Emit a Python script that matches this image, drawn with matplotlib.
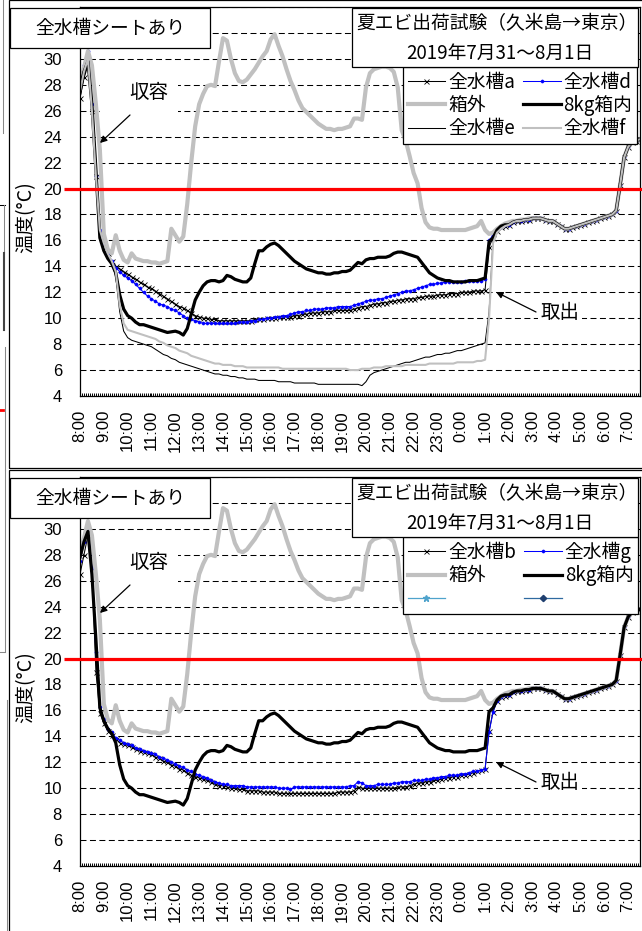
import numpy as np
import matplotlib
matplotlib.use('Agg')
import matplotlib.pyplot as plt
from matplotlib.patches import Rectangle, FancyArrowPatch
from matplotlib.lines import Line2D
from matplotlib.ticker import MultipleLocator
from matplotlib.font_manager import FontProperties

plt.rcParams['font.family'] = ['Liberation Sans', 'Noto Sans CJK JP', 'DejaVu Sans']
plt.rcParams['lines.scale_dashes'] = False

# ---------------- data (10-minute readings from 8:00 to 7:30 next day) ----------------
HOUR_LABELS = ['8:00', '9:00', '10:00', '11:00', '12:00', '13:00', '14:00', '15:00',
               '16:00', '17:00', '18:00', '19:00', '20:00', '21:00', '22:00', '23:00',
               '0:00', '1:00', '2:00', '3:00', '4:00', '5:00', '6:00', '7:00']
STEP_MIN = 10
THRESHOLD = 20

BOX_OUT = [28.0, 29.3, 30.6, 29.5, 26.5, 23.0,
           16.5, 15.3, 15.0, 16.4, 15.2, 14.5,
           14.3, 15.0, 14.6, 14.5, 14.4, 14.4,
           14.3, 14.3, 14.2, 14.3, 14.4, 16.9,
           16.4, 15.9, 16.3, 18.8, 22.0, 24.8,
           26.5, 27.3, 27.9, 28.0, 27.9, 29.8,
           31.6, 31.4, 30.0, 28.9, 28.3, 28.2,
           28.4, 28.8, 29.2, 29.7, 30.2, 30.6,
           31.5, 31.9, 31.0, 30.2, 29.2, 28.3,
           27.6, 26.8, 26.2, 25.9, 25.6, 25.3,
           25.0, 24.8, 24.6, 24.6, 24.5, 24.6,
           24.6, 24.7, 24.8, 25.4, 25.4, 25.3,
           27.8, 28.9, 29.2, 29.3, 29.4, 29.4,
           29.3, 29.0, 27.8, 24.5, 23.7, 22.5,
           21.2, 20.4, 18.5, 17.4, 17.0, 16.9,
           16.9, 16.8, 16.8, 16.8, 16.8, 16.8,
           16.8, 16.8, 16.9, 17.0, 17.1, 17.5,
           16.8, 16.5, 16.6, 16.9, 17.1, 17.3,
           17.4, 17.5, 17.5, 17.6, 17.6, 17.7,
           17.7, 17.7, 17.7, 17.6, 17.5, 17.5,
           17.3, 17.1, 16.9, 16.9, 17.0, 17.1,
           17.2, 17.3, 17.4, 17.5, 17.6, 17.7,
           17.8, 17.9, 18.0, 18.3, 20.3, 22.4,
           23.2, 23.6, 23.7, 23.8]

# common part after removal (2:00 - 7:30) for the water-tank / box-inside loggers
TAIL = [17.2, 17.4, 17.5, 17.5, 17.6, 17.6,
        17.7, 17.7, 17.7, 17.6, 17.5, 17.5,
        17.3, 17.1, 16.9, 16.9, 17.0, 17.1,
        17.2, 17.3, 17.4, 17.5, 17.6, 17.7,
        17.8, 17.9, 18.0, 18.3, 20.3, 22.4,
        23.2, 23.6, 23.7, 23.8]

BOX_8KG = [27.8, 29.0, 29.8, 26.5, 21.5, 16.2,
           15.2, 14.6, 14.2, 13.5, 11.8, 10.7,
           10.2, 10.0, 9.7, 9.5, 9.5, 9.4,
           9.3, 9.2, 9.1, 9.0, 8.9, 8.95,
           9.0, 8.9, 8.7, 9.2, 10.3, 11.4,
           12.0, 12.5, 12.8, 12.9, 12.9, 12.8,
           12.9, 13.3, 13.2, 13.0, 12.9, 12.8,
           12.8, 13.1, 14.2, 15.2, 15.2, 15.5,
           15.7, 15.8, 15.6, 15.3, 15.0, 14.7,
           14.4, 14.2, 14.0, 13.8, 13.7, 13.6,
           13.5, 13.5, 13.4, 13.4, 13.5, 13.5,
           13.6, 13.6, 13.7, 14.0, 14.3, 14.2,
           14.5, 14.6, 14.6, 14.7, 14.7, 14.7,
           14.8, 15.0, 15.1, 15.1, 15.0, 14.9,
           14.8, 14.7, 14.3, 13.9, 13.5, 13.3,
           13.1, 13.0, 12.9, 12.9, 12.8, 12.8,
           12.8, 12.8, 12.9, 12.9, 12.9, 13.0,
           13.1, 15.9, 16.2, 16.8, 17.1, 17.2]

TANK_A = [27.0, 28.6, 29.8, 26.0, 21.0, 16.8,
          15.8, 15.0, 14.4, 14.0, 13.8, 13.6,
          13.4, 13.2, 13.0, 12.8, 12.6, 12.4,
          12.3, 12.1, 11.9, 11.7, 11.5, 11.3,
          11.1, 10.9, 10.8, 10.6, 10.4, 10.2,
          10.1, 10.0, 10.0, 9.9, 9.9, 9.8,
          9.8, 9.8, 9.8, 9.8, 9.8, 9.8,
          9.8, 9.8, 9.9, 9.9, 9.9, 10.0,
          10.0, 10.0, 10.1, 10.1, 10.1, 10.1,
          10.2, 10.2, 10.3, 10.3, 10.4, 10.4,
          10.4, 10.5, 10.5, 10.5, 10.6, 10.6,
          10.6, 10.6, 10.6, 10.7, 10.8, 10.9,
          10.9, 11.0, 11.1, 11.1, 11.2, 11.2,
          11.3, 11.3, 11.4, 11.4, 11.5, 11.5,
          11.5, 11.6, 11.6, 11.7, 11.7, 11.7,
          11.8, 11.8, 11.8, 11.9, 11.9, 11.9,
          12.0, 12.0, 12.0, 12.1, 12.1, 12.1,
          12.2, 15.5, 16.2, 16.7, 17.0, 17.1]

TANK_D = [28.2, 29.5, 30.6, 26.5, 21.0, 16.8,
          15.8, 15.0, 14.4, 13.9, 13.6, 13.3,
          13.1, 12.9, 12.6, 12.3, 12.0, 11.7,
          11.5, 11.3, 11.1, 11.0, 10.9, 10.7,
          10.6, 10.4, 10.2, 10.0, 9.9, 9.8,
          9.7, 9.6, 9.6, 9.6, 9.6, 9.6,
          9.6, 9.6, 9.6, 9.6, 9.7, 9.7,
          9.7, 9.8, 9.8, 9.9, 9.9, 10.0,
          10.0, 10.1, 10.1, 10.2, 10.2, 10.3,
          10.4, 10.5, 10.5, 10.6, 10.6, 10.7,
          10.7, 10.7, 10.8, 10.8, 10.8, 10.9,
          10.9, 10.9, 10.9, 11.0, 11.1, 11.2,
          11.3, 11.4, 11.4, 11.5, 11.5, 11.6,
          11.7, 11.8, 11.9, 12.0, 12.1, 12.1,
          12.2, 12.3, 12.4, 12.5, 12.6, 12.6,
          12.7, 12.7, 12.8, 12.8, 12.8, 12.8,
          12.8, 12.9, 12.9, 12.9, 12.9, 12.9,
          13.0, 16.0, 16.4, 16.8, 17.0, 17.2]

TANK_E = [27.0, 28.5, 29.5, 26.0, 21.0, 16.8,
          15.8, 15.0, 14.3, 13.2, 10.5, 9.0,
          8.5, 8.3, 8.2, 8.1, 8.0, 7.9,
          7.8, 7.6, 7.4, 7.2, 7.1, 6.9,
          6.8, 6.6, 6.5, 6.4, 6.3, 6.2,
          6.1, 6.0, 5.9, 5.8, 5.7, 5.7,
          5.6, 5.6, 5.5, 5.5, 5.4, 5.4,
          5.3, 5.3, 5.3, 5.2, 5.2, 5.2,
          5.2, 5.2, 5.1, 5.1, 5.1, 5.1,
          5.0, 5.0, 5.0, 5.0, 5.0, 5.0,
          4.9, 4.9, 4.9, 4.9, 4.9, 4.9,
          4.9, 4.9, 4.9, 4.9, 4.9, 4.8,
          5.1, 5.6, 5.8, 5.9, 6.0, 6.1,
          6.2, 6.3, 6.4, 6.5, 6.6, 6.6,
          6.7, 6.8, 6.9, 7.0, 7.0, 7.1,
          7.2, 7.2, 7.3, 7.3, 7.4, 7.5,
          7.5, 7.6, 7.7, 7.8, 7.9, 8.0,
          8.1, 10.5, 16.0, 16.6, 16.9, 17.1]

TANK_F = [27.5, 29.0, 30.0, 26.0, 21.0, 16.8,
          15.8, 15.0, 14.4, 13.6, 11.0, 9.6,
          9.1, 9.0, 8.9, 8.8, 8.7, 8.6,
          8.5, 8.4, 8.2, 8.1, 7.9, 7.8,
          7.7, 7.5, 7.4, 7.3, 7.1, 7.0,
          6.9, 6.8, 6.7, 6.6, 6.5, 6.5,
          6.4, 6.4, 6.4, 6.3, 6.3, 6.3,
          6.2, 6.2, 6.2, 6.2, 6.2, 6.2,
          6.2, 6.2, 6.2, 6.1, 6.1, 6.1,
          6.1, 6.1, 6.1, 6.1, 6.1, 6.1,
          6.1, 6.1, 6.1, 6.1, 6.1, 6.1,
          6.1, 6.1, 6.0, 6.0, 6.0, 6.1,
          6.1, 6.1, 6.2, 6.2, 6.2, 6.3,
          6.3, 6.3, 6.3, 6.3, 6.4, 6.4,
          6.4, 6.4, 6.4, 6.4, 6.5, 6.5,
          6.5, 6.5, 6.5, 6.5, 6.5, 6.6,
          6.6, 6.6, 6.6, 6.6, 6.7, 6.7,
          6.8, 10.0, 15.8, 16.6, 16.9, 17.1]

TANK_B = [26.5, 28.0, 29.5, 27.0, 19.0, 15.8,
          15.0, 14.4, 14.1, 13.8, 13.5, 13.4,
          13.3, 13.2, 13.0, 12.9, 12.8, 12.7,
          12.6, 12.4, 12.3, 12.1, 12.0, 11.8,
          11.7, 11.5, 11.4, 11.2, 11.0, 10.9,
          10.8, 10.7, 10.6, 10.5, 10.3, 10.2,
          10.2, 10.1, 10.0, 10.0, 9.9, 9.9,
          9.8, 9.8, 9.8, 9.8, 9.7, 9.7,
          9.7, 9.7, 9.6, 9.6, 9.6, 9.6,
          9.6, 9.6, 9.6, 9.6, 9.6, 9.6,
          9.6, 9.6, 9.6, 9.6, 9.6, 9.7,
          9.7, 9.7, 9.7, 9.8, 10.1, 10.0,
          10.0, 10.0, 10.0, 10.0, 10.0, 10.0,
          10.0, 10.0, 10.1, 10.1, 10.1, 10.2,
          10.3, 10.4, 10.4, 10.5, 10.5, 10.6,
          10.6, 10.7, 10.8, 10.8, 10.9, 10.9,
          11.0, 11.0, 11.1, 11.2, 11.3, 11.4,
          11.5, 14.4, 15.9, 16.7, 17.0, 17.1]

TANK_G = [27.5, 29.0, 30.1, 27.0, 20.5, 16.3,
          15.3, 14.6, 14.3, 13.9, 13.7, 13.5,
          13.4, 13.3, 13.1, 13.0, 12.9, 12.8,
          12.7, 12.6, 12.4, 12.3, 12.2, 12.0,
          11.9, 11.7, 11.6, 11.4, 11.3, 11.1,
          11.0, 10.9, 10.8, 10.6, 10.5, 10.4,
          10.3, 10.3, 10.2, 10.2, 10.2, 10.2,
          10.1, 10.1, 10.1, 10.1, 10.1, 10.1,
          10.1, 10.1, 10.0, 10.0, 10.0, 9.9,
          10.1, 10.1, 10.1, 10.1, 10.1, 10.1,
          10.1, 10.1, 10.1, 10.1, 10.1, 10.1,
          10.1, 10.1, 10.2, 10.2, 10.5, 10.4,
          10.2, 10.2, 10.2, 10.3, 10.3, 10.3,
          10.3, 10.4, 10.4, 10.5, 10.5, 10.5,
          10.6, 10.6, 10.6, 10.7, 10.7, 10.8,
          10.8, 10.9, 10.9, 11.0, 11.0, 11.0,
          11.1, 11.1, 11.2, 11.3, 11.3, 11.4,
          11.5, 14.3, 15.9, 16.7, 17.0, 17.2]

TOP_TITLE = '全水槽シートあり'
MAIN_TITLE = '夏エビ出荷試験（久米島→東京）'
SUB_TITLE = '2019年7月31～8月1日'
YLABEL = '温度(°C)'

# ---------------- figure ----------------
W, H = 642, 931
fig = plt.figure(figsize=(W / 100, H / 100), dpi=100)
fig.patch.set_facecolor('white')


def fx(x):
    return x / W


def fy(y):
    return 1 - y / H


JP = ['Noto Sans CJK JP', 'DejaVu Sans']
jp14 = FontProperties(family=JP, size=14)
jp13 = FontProperties(family=JP, size=13.5)
jp135 = FontProperties(family=JP, size=13.5)
jpleg = FontProperties(family=JP, size=13.5)


def fig_line(x0, y0, x1, y1, color='black', lw=0.75):
    fig.add_artist(Line2D([fx(x0), fx(x1)], [fy(y0), fy(y1)], transform=fig.transFigure,
                          color=color, lw=lw))


def panel(off, series, legend_order):
    # outer chart frame
    fig.add_artist(Rectangle((fx(9), fy(off + 468)), fx(700) - fx(9), 468 / H,
                             transform=fig.transFigure, facecolor='none',
                             edgecolor='black', lw=0.9, zorder=0.5))
    top, bot = off + 7, off + 396
    ax = fig.add_axes([fx(80), fy(bot), fx(640) - fx(80), (bot - top) / H])
    ax.set_facecolor('white')
    n = len(series[0][0])
    t = np.arange(n) * STEP_MIN / 60.0
    handles = {}
    for vals, kw in series:
        ln, = ax.plot(t[:len(vals)], vals, **kw)
        handles[kw['label']] = ln
    # 20 C reference line, reaching out to the tick labels
    ax.plot([-(80 - 64) / 23.83, 23.6], [THRESHOLD, THRESHOLD], color='#ff0000', lw=2.3,
            clip_on=False, zorder=6, solid_capstyle='butt')
    ax.set_xlim(0, 23.5)
    ax.set_ylim(4, 34)
    yt = list(range(4, 35, 2))
    ax.set_yticks(yt)
    ax.set_yticklabels([str(v) if v <= 30 else '' for v in yt])
    ax.set_xticks(range(len(HOUR_LABELS)))
    ax.set_xticklabels(HOUR_LABELS, rotation=90)
    ax.xaxis.set_minor_locator(MultipleLocator(5 / 60))
    ax.tick_params(axis='x', which='both', direction='in', length=2.5, width=0.7,
                   pad=10, labelsize=12)
    ax.tick_params(axis='y', which='both', direction='in', length=3, width=0.7,
                   pad=13, labelsize=12)
    ax.grid(axis='y', color='black', lw=0.75, linestyle=(0, (4.3, 2.5)))
    for s in ax.spines.values():
        s.set_linewidth(0.9)
        s.set_color('black')
    hs = [handles[k] for k in legend_order]
    labels = [' ' if h.get_label().startswith('_') else h.get_label() for h in hs]
    leg = ax.legend(hs, labels,
                    ncol=2, loc='upper left', bbox_to_anchor=(fx(403), fy(off + 67)),
                    bbox_transform=fig.transFigure, borderaxespad=0, frameon=True,
                    fancybox=False, edgecolor='black', framealpha=1, prop=jpleg,
                    handlelength=2.0, handletextpad=0.15, columnspacing=0.45,
                    labelspacing=0.12, borderpad=0.25, numpoints=1)
    leg.get_frame().set_linewidth(0.9)
    leg.set_zorder(20)

    # title boxes
    fig.add_artist(Rectangle((fx(10), fy(off + 48)), fx(210) - fx(10), 40 / H,
                             transform=fig.transFigure, facecolor='white',
                             edgecolor='black', lw=0.9, zorder=10))
    fig.text(fx(110), fy(off + 28), TOP_TITLE, ha='center', va='center',
             fontproperties=jp135, zorder=11)
    fig.add_artist(Rectangle((fx(352), fy(off + 67)), fx(638) - fx(352), 59 / H,
                             transform=fig.transFigure, facecolor='white',
                             edgecolor='black', lw=0.9, zorder=10))
    fig.text(fx(497), fy(off + 24), MAIN_TITLE, ha='center', va='center',
             fontproperties=jp135, zorder=11)
    fig.text(fx(500), fy(off + 53), SUB_TITLE, ha='center', va='center',
             fontproperties=jp13, zorder=11)

    # y label
    fig.text(fx(26), fy(off + 217), YLABEL, rotation=90, ha='center', va='center',
             fontproperties=jp14)

    # annotations
    fig.add_artist(Rectangle((fx(100), fy(off + 120)), fx(178) - fx(100), 54 / H,
                             transform=fig.transFigure, facecolor='white',
                             edgecolor='none', zorder=9))
    fig.text(fx(149), fy(off + 93), '収容', ha='center', va='center',
             fontproperties=jp14, zorder=11)
    fig.add_artist(FancyArrowPatch((fx(130), fy(off + 115)), (fx(100), fy(off + 143)),
                                   transform=fig.transFigure, arrowstyle='-|>',
                                   mutation_scale=10, lw=0.9, color='black',
                                   shrinkA=0, shrinkB=0, zorder=12))
    fig.text(fx(560), fy(off + 313), '取出', ha='center', va='center',
             fontproperties=jp14, zorder=11,
             bbox=dict(boxstyle='square,pad=0.15', facecolor='white', edgecolor='none'))
    fig.add_artist(FancyArrowPatch((fx(536), fy(off + 312)), (fx(496), fy(off + 292)),
                                   transform=fig.transFigure, arrowstyle='-|>',
                                   mutation_scale=10, lw=0.9, color='black',
                                   shrinkA=0, shrinkB=0, zorder=12))
    return ax


thin_x = dict(color='black', lw=0.75, marker='x', ms=3.6, mew=0.6)
thin_dot = dict(color='#0000ff', lw=0.75, marker='o', ms=2.3, mew=0.3)
box_out_kw = dict(color='#c0c0c0', lw=3.0, solid_joinstyle='round')
box_8kg_kw = dict(color='black', lw=2.3, solid_joinstyle='round')

top_series = [
    (TANK_A + TAIL, dict(label='全水槽a', **thin_x)),
    (TANK_D + TAIL, dict(label='全水槽d', **thin_dot)),
    (BOX_OUT, dict(label='箱外', **box_out_kw)),
    (BOX_8KG + TAIL, dict(label='8kg箱内', **box_8kg_kw)),
    (TANK_E + TAIL, dict(label='全水槽e', color='black', lw=0.75)),
    (TANK_F + TAIL, dict(label='全水槽f', color='#c0c0c0', lw=1.5)),
]
panel(0, top_series, ['全水槽a', '箱外', '全水槽e', '全水槽d', '8kg箱内', '全水槽f'])

EMPTY_1 = []
EMPTY_2 = []
bottom_series = [
    (TANK_B + TAIL, dict(label='全水槽b', **thin_x)),
    (TANK_G + TAIL, dict(label='全水槽g', **thin_dot)),
    (BOX_OUT, dict(label='箱外', **box_out_kw)),
    (BOX_8KG + TAIL, dict(label='8kg箱内', **box_8kg_kw)),
    (EMPTY_1, dict(label='_e1', color='#4fa3cc', lw=0.9, marker='*', ms=4.5)),
    (EMPTY_2, dict(label='_e2', color='#2f6aa0', lw=0.9, marker='D', ms=3.2,
                   mfc='#1f3f6f', mec='#1f3f6f')),
]
panel(470, bottom_series, ['全水槽b', '箱外', '_e1', '全水槽g', '8kg箱内', '_e2'])

# fragments of neighbouring objects at the left edge
fig_line(2.5, 0, 2.5, 133, color='#888888')
fig_line(0, 205, 5, 205)
fig_line(4, 205, 4, 253, color='#888888')
fig_line(4, 253, 4, 330, color='#444444', lw=1.5)
fig_line(0, 410, 3, 410, color='#ff0000', lw=2)
fig_line(5, 347, 5, 470, color='#888888')
fig_line(5, 470, 5, 652, color='#888888')
fig_line(0, 652, 5, 652, color='#888888')
fig_line(6.5, 700, 6.5, 931, color='#888888')

fig.savefig('out.png', dpi=100, facecolor='white')
